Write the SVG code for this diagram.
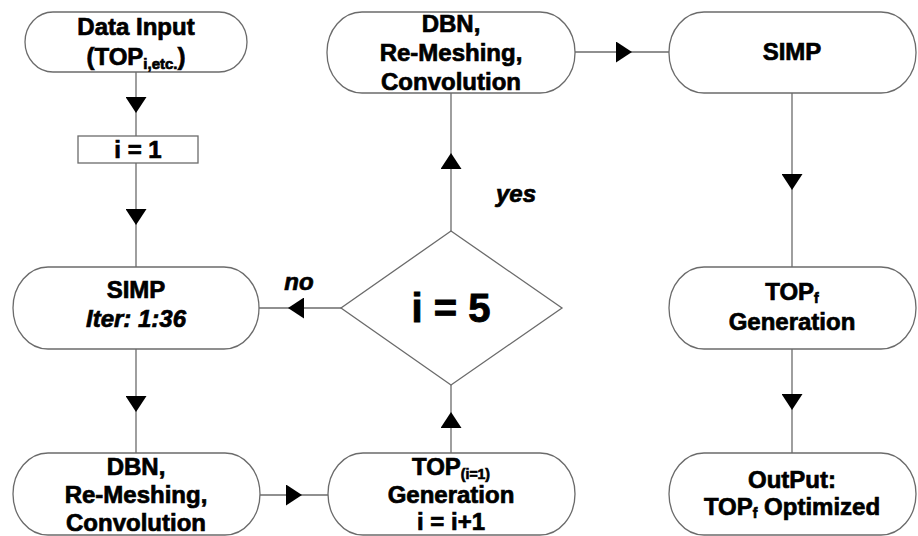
<svg xmlns="http://www.w3.org/2000/svg" width="918" height="536" viewBox="0 0 918 536">
  <defs>
    <marker id="tri" markerUnits="userSpaceOnUse" viewBox="0 0 16 21" refX="16" refY="10.5" markerWidth="16" markerHeight="21" orient="auto">
      <path d="M0,0 L16,10.5 L0,21 Z" fill="#000"/>
    </marker>
  </defs>
  <style>
    .shape { fill: #fff; stroke: #6b6b6b; stroke-width: 1.3; }
    .link { fill: none; stroke: #6b6b6b; stroke-width: 1.3; marker-mid: url(#tri); }
    text { font-family: "Liberation Sans", Arial, sans-serif; font-weight: bold; font-size: 24px; fill: #000; stroke: #000; stroke-width: 0.7; text-anchor: middle; }
    .it { font-style: italic; }
    .big { font-size: 40px; stroke-width: 0.9; }
  </style>
  <rect width="918" height="536" fill="#fff"/>

  <!-- connectors: each path has its arrowhead at the middle vertex -->
  <g id="connectors">
    <path class="link" d="M136,72 L136,113 L136,136"/>
    <path class="link" d="M136,163 L136,225 L136,267"/>
    <path class="link" d="M136,349 L136,412 L136,453"/>
    <path class="link" d="M260,495 L302,495 L328,495"/>
    <path class="link" d="M451,453 L451,412 L451,385"/>
    <path class="link" d="M341,308 L288,308 L259,308"/>
    <path class="link" d="M451,231 L451,153 L451,93"/>
    <path class="link" d="M575,52 L632,52 L669,52"/>
    <path class="link" d="M792,93 L792,190 L792,267"/>
    <path class="link" d="M792,349 L792,410 L792,453"/>
    <text class="it" x="299" y="290">no</text>
    <text class="it" x="516" y="202">yes</text>
  </g>

  <g id="data-input">
    <rect class="shape" x="25" y="12" width="222" height="60" rx="28" ry="30"/>
    <text x="136" y="35">Data Input</text>
    <text x="136" y="65">(TOP<tspan font-size="15" dy="4">i,etc.</tspan><tspan dy="-4">)</tspan></text>
  </g>

  <g id="init-i">
    <rect class="shape" x="78" y="136" width="120" height="27"/>
    <text x="138" y="158">i = 1</text>
  </g>

  <g id="simp-iter">
    <rect class="shape" x="13" y="267" width="246" height="82" rx="35" ry="41"/>
    <text x="136" y="298">SIMP</text>
    <text class="it" x="136" y="327">Iter: 1:36</text>
  </g>

  <g id="dbn-lower">
    <rect class="shape" x="13" y="453" width="247" height="82" rx="35" ry="41"/>
    <text x="136" y="475">DBN,</text>
    <text x="136" y="503">Re-Meshing,</text>
    <text x="136" y="531">Convolution</text>
  </g>

  <g id="top-generation">
    <rect class="shape" x="328" y="453" width="247" height="82" rx="35" ry="41"/>
    <text x="451" y="475">TOP<tspan font-size="14" dy="4">(i=1)</tspan></text>
    <text x="451" y="503">Generation</text>
    <text x="451" y="530">i = i+1</text>
  </g>

  <g id="decision">
    <polygon class="shape" points="451,231 562,308 451,385 341,308"/>
    <text class="big" x="451" y="322">i = 5</text>
  </g>

  <g id="dbn-upper">
    <rect class="shape" x="327" y="12" width="248" height="81" rx="35" ry="40"/>
    <text x="451" y="32">DBN,</text>
    <text x="451" y="61">Re-Meshing,</text>
    <text x="451" y="90">Convolution</text>
  </g>

  <g id="simp-final">
    <rect class="shape" x="669" y="12" width="247" height="81" rx="35" ry="40"/>
    <text x="792" y="60">SIMP</text>
  </g>

  <g id="topf-generation">
    <rect class="shape" x="669" y="267" width="247" height="82" rx="35" ry="41"/>
    <text x="792" y="300">TOP<tspan font-size="14" dy="3">f</tspan></text>
    <text x="792" y="330">Generation</text>
  </g>

  <g id="output">
    <rect class="shape" x="669" y="453" width="247" height="82" rx="35" ry="41"/>
    <text x="792" y="488">OutPut:</text>
    <text x="792" y="515">TOP<tspan font-size="14" dy="3">f</tspan><tspan dy="-3"> Optimized</tspan></text>
  </g>
</svg>
